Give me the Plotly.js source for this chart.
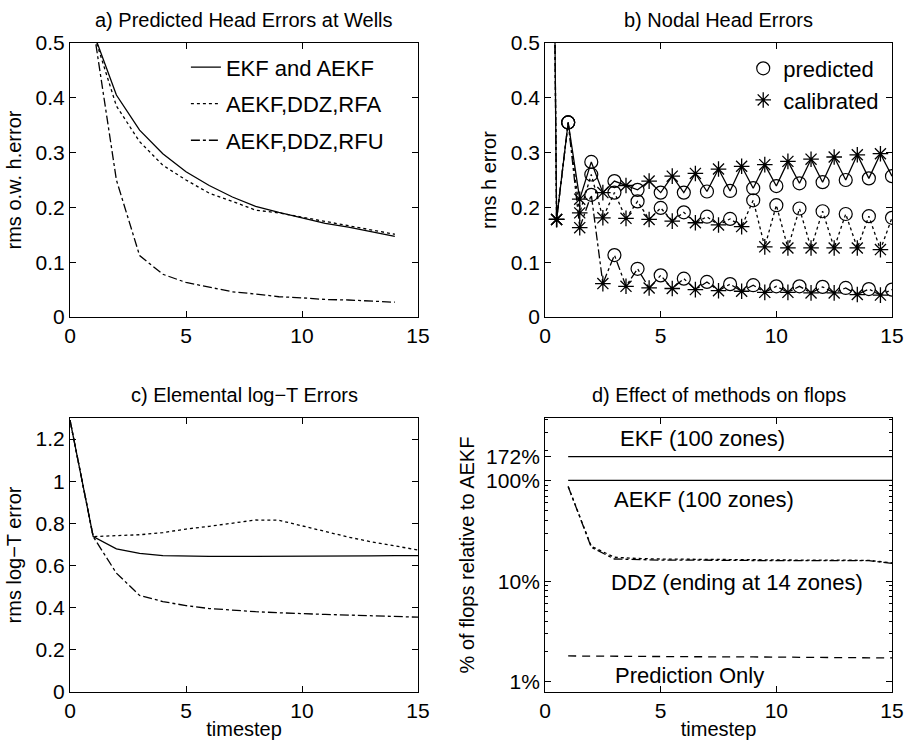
<!DOCTYPE html>
<html>
<head>
<meta charset="utf-8">
<script src="https://cdn.plot.ly/plotly-3.0.1.min.js"></script>
<style>html,body{margin:0;padding:0;background:#fff;}#chart{width:906px;height:749px;}</style>
</head>
<body>
<div id="chart"></div>
<script>
// ---------- Panel a: Predicted head errors at wells ----------
const tA = [1,2,3,4,5,6,7,8,9,10,11,12,13,14];
const aEKF = [0.52,0.405,0.341,0.298,0.265,0.240,0.219,0.202,0.191,0.181,0.171,0.164,0.155,0.147];
const aRFA = [0.52,0.385,0.320,0.277,0.250,0.226,0.211,0.195,0.190,0.182,0.174,0.167,0.159,0.151];
const aRFU = [0.53,0.250,0.112,0.078,0.063,0.054,0.046,0.042,0.037,0.035,0.032,0.031,0.029,0.027];
const legendA = ["EKF and AEKF","AEKF,DDZ,RFA","AEKF,DDZ,RFU"];

// ---------- Panel b: Nodal head errors (predicted at whole steps, calibrated at half steps) ----------
const tB = [0,0.5,1,1.5,2,2.5,3,3.5,4,4.5,5,5.5,6,6.5,7,7.5,8,8.5,9,9.5,10,10.5,11,11.5,12,12.5,13,13.5,14,14.5,15];
const bEKF = [2.5,0.178,0.355,0.215,0.283,0.227,0.248,0.240,0.232,0.248,0.227,0.257,0.227,0.262,0.229,0.270,0.230,0.275,0.235,0.278,0.239,0.284,0.244,0.288,0.246,0.292,0.250,0.296,0.253,0.298,0.257];
const bRFA = [2.5,0.178,0.355,0.190,0.260,0.181,0.227,0.180,0.211,0.178,0.199,0.175,0.191,0.172,0.183,0.168,0.179,0.165,0.213,0.128,0.204,0.126,0.198,0.126,0.193,0.126,0.188,0.126,0.184,0.123,0.181];
const bRFU = [2.5,0.178,0.355,0.163,0.223,0.061,0.113,0.056,0.088,0.053,0.076,0.052,0.070,0.050,0.064,0.048,0.060,0.047,0.058,0.045,0.056,0.045,0.056,0.044,0.055,0.044,0.053,0.041,0.051,0.040,0.050];
const legendB = ["predicted","calibrated"];

// ---------- Panel c: Elemental log-T errors ----------
const tC = [0,1,2,3,4,5,6,7,8,9,10,11,12,13,14,15];
const cEKF = [1.29,0.737,0.679,0.658,0.647,0.644,0.643,0.643,0.643,0.643,0.644,0.645,0.646,0.646,0.647,0.647];
const cRFA = [1.29,0.737,0.742,0.746,0.756,0.773,0.786,0.800,0.816,0.815,0.789,0.760,0.735,0.712,0.692,0.674];
const cRFU = [1.29,0.737,0.564,0.458,0.429,0.410,0.396,0.387,0.381,0.376,0.371,0.368,0.365,0.361,0.358,0.355];

// ---------- Panel d: Effect of methods on flops (% relative to AEKF) ----------
const tD = [1,2,3,4,5,6,7,8,9,10,11,12,13,14,15];
const dEKF = [172,172,172,172,172,172,172,172,172,172,172,172,172,172,172];
const dAEKF = [100,100,100,100,100,100,100,100,100,100,100,100,100,100,100];
const dDDZa = [87,21.7,16.6,16.3,16.2,16.2,16.1,16.1,16.1,16.0,16.0,16.0,16.0,16.0,15.0];
const dDDZb = [87,22.2,17.3,16.8,16.6,16.5,16.4,16.4,16.3,16.3,16.2,16.2,16.1,16.1,15.2];
const dPred = [1.81,1.80,1.80,1.79,1.79,1.78,1.78,1.77,1.77,1.76,1.76,1.75,1.75,1.74,1.73];
const dTickVals = [1,10,100,172];
const dTickText = ["1%","10%","100%","172%"];
const dMinorTicks = [2,3,4,5,6,7,8,9,20,30,40,50,60,70,80,90,200,300,400];
const dLabels = ["EKF (100 zones)","AEKF (100 zones)","DDZ (ending at 14 zones)","Prediction Only"];

const titles = ["a) Predicted Head Errors at Wells","b) Nodal Head Errors","c) Elemental log\u2212T Errors","d) Effect of methods on flops"];

const FONT = "Liberation Sans, Arial, Helvetica, sans-serif";
const K = "#000";
const LW = 1.3;

function ln(x, y, dash, xa, ya, extra) {
  return Object.assign({x: x, y: y, type: "scatter", mode: "lines", xaxis: xa, yaxis: ya,
    line: {color: K, width: LW, dash: dash}, showlegend: false, hoverinfo: "skip"}, extra || {});
}
function half(arr, wantWhole) {
  const xs = [], ys = [];
  tB.forEach((t, i) => { if ((Number.isInteger(t)) === wantWhole) { xs.push(t); ys.push(arr[i]); } });
  return {xs, ys};
}

const traces = [];
// a
traces.push(ln(tA, aEKF, "solid", "x", "y", {name: legendA[0], showlegend: true, legend: "legend", legendgroup: "a1"}));
traces.push(ln(tA, aRFA, "dot", "x", "y", {name: legendA[1], showlegend: true, legend: "legend", legendgroup: "a2"}));
traces.push(ln(tA, aRFU, "dashdot", "x", "y", {name: legendA[2], showlegend: true, legend: "legend", legendgroup: "a3"}));
// b
[[bEKF,"solid"],[bRFA,"dot"],[bRFU,"dashdot"]].forEach((s, k) => {
  traces.push(ln(tB, s[0], s[1], "x2", "y2"));
  const p = half(s[0], true), c = half(s[0], false);
  traces.push({x: p.xs, y: p.ys, type: "scatter", mode: "markers", xaxis: "x2", yaxis: "y2",
    marker: {symbol: "circle-open", size: 13, color: K, line: {width: 1.2, color: K}},
    name: legendB[0], showlegend: k === 0, legend: "legend2", legendgroup: "b1", hoverinfo: "skip"});
  traces.push({x: c.xs, y: c.ys, type: "scatter", mode: "markers", xaxis: "x2", yaxis: "y2",
    marker: {symbol: "asterisk-open", size: 13, color: K, line: {width: 1.3, color: K}},
    name: legendB[1], showlegend: k === 0, legend: "legend2", legendgroup: "b2", hoverinfo: "skip"});
});
// c
traces.push(ln(tC, cEKF, "solid", "x3", "y3"));
traces.push(ln(tC, cRFA, "dot", "x3", "y3"));
traces.push(ln(tC, cRFU, "dashdot", "x3", "y3"));
// d
traces.push(ln(tD, dEKF, "solid", "x4", "y4"));
traces.push(ln(tD, dAEKF, "solid", "x4", "y4"));
traces.push(ln(tD, dDDZb, "dot", "x4", "y4"));
traces.push(ln(tD, dDDZa, "dashdot", "x4", "y4"));
traces.push(ln(tD, dPred, "dash", "x4", "y4", {line: {color: K, width: LW, dash: "8px,6px"}}));

const tickFont = {family: FONT, size: 21, color: K};
function xax(domain, anchor, withTitle) {
  const o = {domain: domain, anchor: anchor, range: [0, 15], tickvals: [0,5,10,15], ticks: "inside", ticklen: 6,
    tickcolor: K, showline: true, linecolor: K, linewidth: 1, mirror: "allticks", showgrid: false, zeroline: false,
    tickfont: tickFont, fixedrange: true};
  if (withTitle) o.title = {text: "timestep", font: {family: FONT, size: 20, color: K}, standoff: 0};
  return o;
}
function yax(domain, anchor, range, dtick, title, standoff) {
  return {domain: domain, anchor: anchor, range: range, dtick: dtick, tick0: 0, ticks: "inside", ticklen: 6,
    tickcolor: K, showline: true, linecolor: K, linewidth: 1, mirror: "allticks", showgrid: false, zeroline: false,
    tickfont: tickFont, fixedrange: true,
    title: {text: title, font: {family: FONT, size: 20, color: K}, standoff: standoff}};
}

const dxL = [0, 0.4234], dxR = [0.5779, 1];
const dyT = [0.5778, 1], dyB = [0, 0.4222];

const annotations = [];
const titleCenters = [[ (dxL[0]+dxL[1])/2, dyT[1]], [(dxR[0]+dxR[1])/2, dyT[1]], [(dxL[0]+dxL[1])/2, dyB[1]], [(dxR[0]+dxR[1])/2, dyB[1]]];
titles.forEach((t, i) => annotations.push({text: t, xref: "paper", yref: "paper", x: titleCenters[i][0], y: titleCenters[i][1],
  xanchor: "center", yanchor: "bottom", yshift: 10, showarrow: false, font: {family: FONT, size: 20, color: K}}));
const dLabelPos = [[6.8, 2.42],[6.86, 1.81],[8.32, 0.987],[6.25, 0.06]];
dLabels.forEach((t, i) => annotations.push({text: t, xref: "x4", yref: "y4", x: dLabelPos[i][0], y: dLabelPos[i][1],
  xanchor: "center", yanchor: "middle", showarrow: false, font: {family: FONT, size: 22, color: K}}));

const y4 = yax(dyB, "x4", [-0.1, 2.62], null, "% of flops relative to AEKF", 6);
y4.type = "log"; delete y4.dtick; delete y4.tick0;
y4.tickmode = "array"; y4.tickvals = dTickVals; y4.ticktext = dTickText;
y4.minor = {ticks: "inside", ticklen: 3, tickcolor: K, tickmode: "array", tickvals: dMinorTicks, showgrid: false};

const layout = {
  width: 906, height: 749,
  margin: {l: 70, r: 14, t: 43, b: 57},
  paper_bgcolor: "#fff", plot_bgcolor: "#fff",
  font: {family: FONT, color: K},
  xaxis: xax(dxL, "y", false),
  yaxis: yax(dyT, "x", [0, 0.5], 0.1, "rms o.w. h.error", 8),
  xaxis2: xax(dxR, "y2", false),
  yaxis2: yax(dyT, "x2", [0, 0.5], 0.1, "rms h error", 8),
  xaxis3: xax(dxL, "y3", true),
  yaxis3: yax(dyB, "x3", [0, 1.3], 0.2, "rms log\u2212T error", 8),
  xaxis4: xax(dxR, "y4", true),
  yaxis4: y4,
  legend: {x: 0.141, y: 0.995, xanchor: "left", yanchor: "top", bgcolor: "rgba(0,0,0,0)", borderwidth: 0,
    font: {family: FONT, size: 22, color: K}, traceorder: "grouped", tracegroupgap: 5},
  legend2: {x: 0.819, y: 0.993, xanchor: "left", yanchor: "top", bgcolor: "rgba(0,0,0,0)", borderwidth: 0,
    font: {family: FONT, size: 22, color: K}, traceorder: "grouped", tracegroupgap: 0},
  annotations: annotations,
  showlegend: true
};

Plotly.newPlot("chart", traces, layout, {displayModeBar: false, staticPlot: true});
</script>
</body>
</html>
